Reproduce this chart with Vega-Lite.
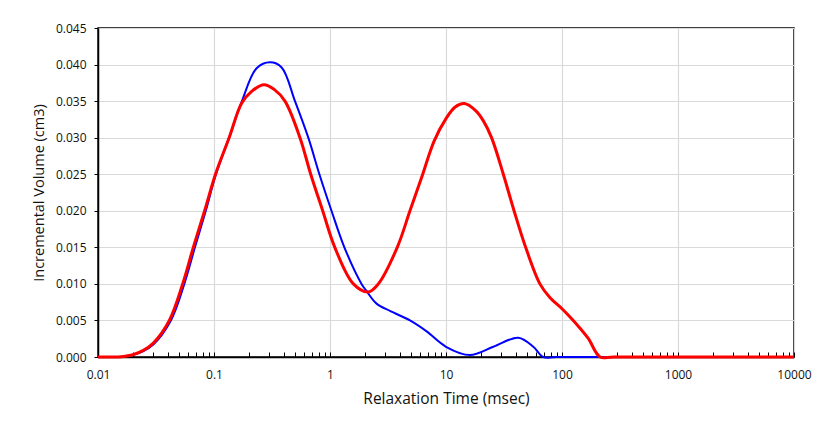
{
  "$schema": "https://vega.github.io/schema/vega-lite/v6.json",
  "width": 696,
  "height": 329,
  "autosize": {"type": "none"},
  "padding": {"left": 98, "top": 28, "right": 23, "bottom": 70},
  "background": "white",
  "config": {
    "view": {"stroke": "black", "strokeWidth": 1.5},
    "font": "Open Sans"
  },
  "data": {
    "values": [
      {"t": 0.01, "v": 0, "s": "Blue"},
      {"t": 0.013, "v": 0, "s": "Blue"},
      {"t": 0.016, "v": 0.00005, "s": "Blue"},
      {"t": 0.02, "v": 0.0003, "s": "Blue"},
      {"t": 0.0246, "v": 0.0008, "s": "Blue"},
      {"t": 0.03, "v": 0.0017, "s": "Blue"},
      {"t": 0.0425, "v": 0.005, "s": "Blue"},
      {"t": 0.0555, "v": 0.010, "s": "Blue"},
      {"t": 0.0685, "v": 0.015, "s": "Blue"},
      {"t": 0.085, "v": 0.020, "s": "Blue"},
      {"t": 0.104, "v": 0.025, "s": "Blue"},
      {"t": 0.135, "v": 0.030, "s": "Blue"},
      {"t": 0.174, "v": 0.035, "s": "Blue"},
      {"t": 0.233, "v": 0.0395, "s": "Blue"},
      {"t": 0.304, "v": 0.0403, "s": "Blue"},
      {"t": 0.383, "v": 0.0396, "s": "Blue"},
      {"t": 0.499, "v": 0.035, "s": "Blue"},
      {"t": 0.65, "v": 0.030, "s": "Blue"},
      {"t": 0.81, "v": 0.025, "s": "Blue"},
      {"t": 1.03, "v": 0.020, "s": "Blue"},
      {"t": 1.33, "v": 0.015, "s": "Blue"},
      {"t": 1.87, "v": 0.010, "s": "Blue"},
      {"t": 2.05, "v": 0.0091, "s": "Blue"},
      {"t": 2.52, "v": 0.0073, "s": "Blue"},
      {"t": 3.29, "v": 0.0063, "s": "Blue"},
      {"t": 4.89, "v": 0.0050, "s": "Blue"},
      {"t": 6.81, "v": 0.0035, "s": "Blue"},
      {"t": 10, "v": 0.0014, "s": "Blue"},
      {"t": 16.1, "v": 0.00027, "s": "Blue"},
      {"t": 25.6, "v": 0.0014, "s": "Blue"},
      {"t": 42, "v": 0.00264, "s": "Blue"},
      {"t": 56.6, "v": 0.0014, "s": "Blue"},
      {"t": 69, "v": 0, "s": "Blue"},
      {"t": 90, "v": 0, "s": "Blue"},
      {"t": 10000, "v": 0, "s": "Blue"},
      {"t": 0.01, "v": 0, "s": "Red"},
      {"t": 0.013, "v": 0, "s": "Red"},
      {"t": 0.016, "v": 0.00005, "s": "Red"},
      {"t": 0.02, "v": 0.0003, "s": "Red"},
      {"t": 0.0246, "v": 0.0009, "s": "Red"},
      {"t": 0.03, "v": 0.0019, "s": "Red"},
      {"t": 0.0412, "v": 0.005, "s": "Red"},
      {"t": 0.0537, "v": 0.010, "s": "Red"},
      {"t": 0.0663, "v": 0.015, "s": "Red"},
      {"t": 0.083, "v": 0.020, "s": "Red"},
      {"t": 0.103, "v": 0.025, "s": "Red"},
      {"t": 0.135, "v": 0.030, "s": "Red"},
      {"t": 0.173, "v": 0.0347, "s": "Red"},
      {"t": 0.21, "v": 0.0363, "s": "Red"},
      {"t": 0.27, "v": 0.03725, "s": "Red"},
      {"t": 0.33, "v": 0.0366, "s": "Red"},
      {"t": 0.409, "v": 0.035, "s": "Red"},
      {"t": 0.551, "v": 0.030, "s": "Red"},
      {"t": 0.682, "v": 0.025, "s": "Red"},
      {"t": 0.865, "v": 0.020, "s": "Red"},
      {"t": 1.1, "v": 0.015, "s": "Red"},
      {"t": 1.59, "v": 0.010, "s": "Red"},
      {"t": 2.14, "v": 0.0089, "s": "Red"},
      {"t": 2.61, "v": 0.010, "s": "Red"},
      {"t": 3.8, "v": 0.015, "s": "Red"},
      {"t": 4.89, "v": 0.020, "s": "Red"},
      {"t": 6.3, "v": 0.025, "s": "Red"},
      {"t": 7.88, "v": 0.0295, "s": "Red"},
      {"t": 10, "v": 0.0326, "s": "Red"},
      {"t": 12, "v": 0.0342, "s": "Red"},
      {"t": 14.4, "v": 0.03466, "s": "Red"},
      {"t": 18, "v": 0.0337, "s": "Red"},
      {"t": 21, "v": 0.0323, "s": "Red"},
      {"t": 24.7, "v": 0.030, "s": "Red"},
      {"t": 31.2, "v": 0.025, "s": "Red"},
      {"t": 38.6, "v": 0.020, "s": "Red"},
      {"t": 48.6, "v": 0.015, "s": "Red"},
      {"t": 64.5, "v": 0.010, "s": "Red"},
      {"t": 78.9, "v": 0.0081, "s": "Red"},
      {"t": 100, "v": 0.0066, "s": "Red"},
      {"t": 120, "v": 0.0053, "s": "Red"},
      {"t": 140, "v": 0.0041, "s": "Red"},
      {"t": 169, "v": 0.0025, "s": "Red"},
      {"t": 213, "v": 0, "s": "Red"},
      {"t": 280, "v": 0, "s": "Red"},
      {"t": 10000, "v": 0, "s": "Red"}
    ]
  },
  "encoding": {
    "x": {
      "field": "t",
      "type": "quantitative",
      "scale": {"type": "log", "domain": [0.01, 10000], "nice": false},
      "axis": {
        "title": "Relaxation Time (msec)",
        "titleFont": "Open Sans",
        "titleFontSize": 15.5,
        "titleFontWeight": "normal",
        "titleColor": "#111",
        "titlePadding": 11,
        "values": [0.01,0.02,0.03,0.04,0.05,0.06,0.07,0.08,0.09,0.1,0.2,0.3,0.4,0.5,0.6,0.7,0.8,0.9,1,2,3,4,5,6,7,8,9,10,20,30,40,50,60,70,80,90,100,200,300,400,500,600,700,800,900,1000,2000,3000,4000,5000,6000,7000,8000,9000,10000],
        "labelExpr": "abs(log(datum.value)/LN10 - round(log(datum.value)/LN10)) < 1e-6 ? (datum.value >= 1 ? format(datum.value, 'd') : format(datum.value, '.2~f')) : ''",
        "labelFont": "Open Sans",
        "labelFontSize": 12,
        "labelColor": "#111",
        "labelPadding": 17,
        "labelOverlap": false,
        "labelFlush": false,
        "tickSize": -5,
        "tickColor": "black",
        "tickWidth": 1,
        "domainColor": "black",
        "domainWidth": 1.5,
        "grid": true,
        "gridColor": "#d9d9d9",
        "gridWidth": 1.2,
        "gridOpacity": {"condition": {"test": "abs(log(datum.value)/LN10 - round(log(datum.value)/LN10)) < 1e-6", "value": 1}, "value": 0}
      }
    },
    "y": {
      "field": "v",
      "type": "quantitative",
      "scale": {"domain": [0, 0.045], "nice": false},
      "axis": {
        "title": "Incremental Volume (cm3)",
        "titleFont": "Open Sans",
        "titleFontSize": 14.5,
        "titleFontWeight": "normal",
        "titleColor": "#111",
        "titlePadding": 9,
        "values": [0,0.005,0.01,0.015,0.02,0.025,0.03,0.035,0.04,0.045],
        "format": ".3f",
        "labelFont": "Open Sans",
        "labelFontSize": 12,
        "labelColor": "#111",
        "labelPadding": 8,
        "tickSize": 4,
        "tickColor": "black",
        "domainColor": "black",
        "domainWidth": 1.5,
        "grid": true,
        "gridColor": "#d9d9d9",
        "gridWidth": 1.2
      }
    }
  },
  "layer": [
    {
      "transform": [{"filter": "datum.s == 'Blue'"}],
      "mark": {"type": "line", "color": "#0000ff", "strokeWidth": 2, "interpolate": "catmull-rom"}
    },
    {
      "transform": [{"filter": "datum.s == 'Red'"}],
      "mark": {"type": "line", "color": "#ff0000", "strokeWidth": 3, "interpolate": "catmull-rom"}
    }
  ]
}
